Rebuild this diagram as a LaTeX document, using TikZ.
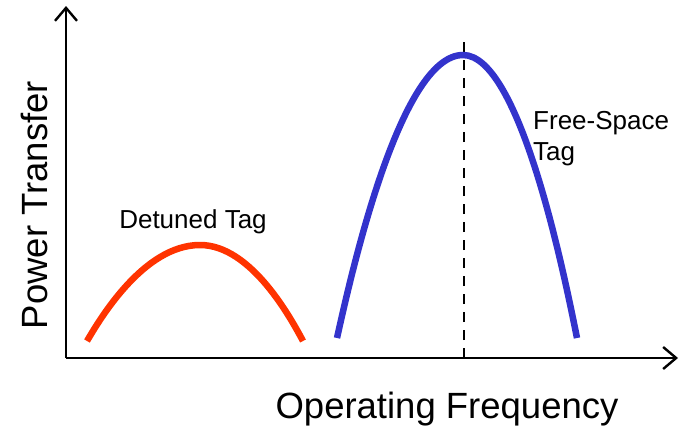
\documentclass[tikz,border=0pt]{standalone}
\usepackage{fontspec}
\setmainfont{Liberation Sans}
\usetikzlibrary{arrows.meta}

\definecolor{detuned}{RGB}{255,51,0}
\definecolor{freespace}{RGB}{51,51,204}

\begin{document}
\begin{tikzpicture}[x=1pt, y=-1pt,
    axis/.style={line width=2.6pt, -{Straight Barb[length=13pt, width=22pt, line width=2.4pt]}},
    response/.style={line width=6.5pt},
    label/.style={inner sep=0pt, anchor=base}]
            \useasboundingbox (0,0) rectangle (688,434);

            \coordinate (origin) at (66,358);
            \coordinate (ytop) at (66,6);
            \coordinate (xend) at (678,358);
            \coordinate (res) at (464,358);
            \coordinate (restop) at (464,38);

            \draw[axis] (origin) -- (ytop);
            \draw[axis] (origin) -- (xend);

            \draw[line width=2.4pt, dash pattern=on 10pt off 8pt] (res) -- (restop);

            \draw[response, detuned] (87,341) parabola bend (200,245) (303,341);
            \draw[response, freespace] (337,338) parabola bend (463,55) (577,338);

            \node[label, font=\fontsize{26}{31}\selectfont] (detunedlbl) at (193,228) {Detuned Tag};
            % base of a two-line node is the last line
            \node[label, anchor=base west, align=left, font=\fontsize{26}{31}\selectfont] (freelbl) at (533,160)
                {Free-Space\\Tag};
            \node[label, rotate=90, font=\fontsize{36.5}{44}\selectfont] (ylbl) at (47,205) {Power Transfer};
            \node[label, font=\fontsize{36.5}{44}\selectfont] (xlbl) at (447,418) {Operating Frequency};
        \end{tikzpicture}
\end{document}
